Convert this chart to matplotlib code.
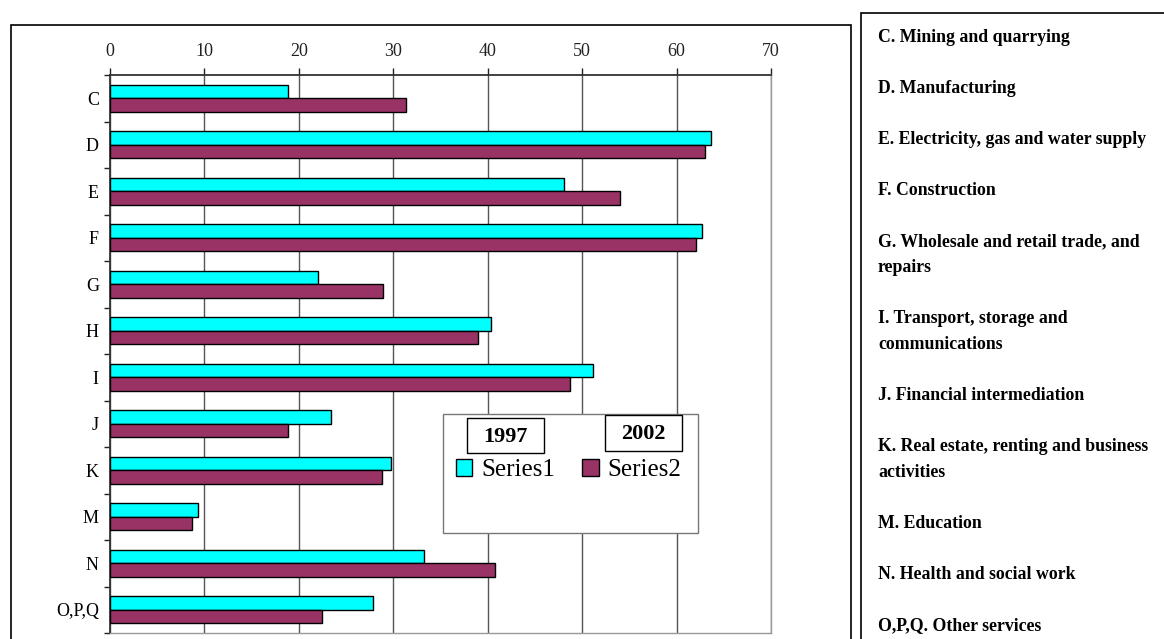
import matplotlib
matplotlib.use("Agg")
import matplotlib.pyplot as plt
from matplotlib.patches import Rectangle, Patch
import numpy as np

categories = ["C", "D", "E", "F", "G", "H", "I", "J", "K", "M", "N", "O,P,Q"]
series1_1997 = [18.9, 63.6, 48.1, 62.7, 22.0, 40.3, 51.1, 23.4, 29.8, 9.3, 33.3, 27.9]
series2_2002 = [31.3, 63.0, 54.0, 62.1, 28.9, 39.0, 48.7, 18.9, 28.8, 8.7, 40.8, 22.5]
series_names = ["Series1", "Series2"]
year_labels = ["1997", "2002"]
x_ticks = [0, 10, 20, 30, 40, 50, 60, 70]
descriptions = [
    ["C. Mining and quarrying"],
    ["D. Manufacturing"],
    ["E. Electricity, gas and water supply"],
    ["F. Construction"],
    ["G. Wholesale and retail trade, and", "repairs"],
    ["I. Transport, storage and", "communications"],
    ["J. Financial intermediation"],
    ["K. Real estate, renting and business", "activities"],
    ["M. Education"],
    ["N. Health and social work"],
    ["O,P,Q. Other services"],
]

W, H = 1164, 639
plt.rcParams["font.family"] = ["Liberation Serif", "DejaVu Serif"]
fig = plt.figure(figsize=(W / 100, H / 100), dpi=100)
fig.patch.set_facecolor("white")

def fx(px):
    return px / W

def fy(py):
    return 1 - py / H

# outer frames
fig.add_artist(Rectangle((fx(11), fy(660)), fx(851 - 11), (660 - 25) / H,
                         transform=fig.transFigure, fill=False, edgecolor="black", lw=1.2, clip_on=False))
fig.add_artist(Rectangle((fx(861), fy(660)), fx(1200 - 861), (660 - 13) / H,
                         transform=fig.transFigure, fill=False, edgecolor="black", lw=1.2, clip_on=False))

ax = fig.add_axes([fx(110), fy(633), fx(771 - 110), (633 - 75) / H])
n = len(categories)
y = np.arange(n)
bh = 0.29
ax.barh(y - bh / 2, series1_1997, height=bh, color="#00FFFF", edgecolor="black", lw=1.0, zorder=3,
        label=series_names[0])
ax.barh(y + bh / 2, series2_2002, height=bh, color="#993366", edgecolor="black", lw=1.0, zorder=3,
        label=series_names[1])

ax.set_xlim(0, 70)
ax.set_ylim(n - 0.5, -0.5)
ax.xaxis.tick_top()
ax.set_xticks(x_ticks)
ax.set_xticklabels([str(t) for t in x_ticks], fontsize=13)
ax.tick_params(axis="x", direction="out", length=5, width=1, pad=6, colors="#222222")
ax.set_yticks(y)
ax.set_yticklabels(categories, fontsize=13)
ax.set_yticks(np.arange(-0.5, n, 1.0), minor=True)
ax.tick_params(axis="y", which="major", length=0, pad=8)
ax.tick_params(axis="y", which="minor", length=4, width=1, direction="out", color="#222222")
ax.grid(axis="x", color="#555555", lw=1.0, zorder=0)
ax.set_axisbelow(True)
for s in ["left", "top"]:
    ax.spines[s].set_color("#333333")
    ax.spines[s].set_linewidth(1.3)
for s in ["right", "bottom"]:
    ax.spines[s].set_color("#999999")
    ax.spines[s].set_linewidth(1.0)

# legend box
ax.add_patch(Rectangle((fx(443), fy(533)), fx(698 - 443), (533 - 414) / H, transform=fig.transFigure,
                       facecolor="white", edgecolor="#777777", lw=1.0, zorder=4, clip_on=False))
for lbl, (x0, y0, x1, y1) in zip(year_labels, [(467, 418, 544, 453), (605, 415, 682, 451)]):
    ax.add_patch(Rectangle((fx(x0), fy(y1)), fx(x1 - x0), (y1 - y0) / H, transform=fig.transFigure,
                           facecolor="white", edgecolor="black", lw=1.0, zorder=5, clip_on=False))
    ax.text(fx((x0 + x1) / 2), fy((y0 + y1) / 2 + 1), lbl, transform=fig.transFigure, ha="center", va="center",
            fontsize=16, fontweight="bold", zorder=6)
handles = [Patch(facecolor="#00FFFF", edgecolor="black", lw=1.0),
           Patch(facecolor="#993366", edgecolor="black", lw=1.0)]
leg = ax.legend(handles, series_names, loc="upper left", bbox_to_anchor=(fx(456), fy(459)),
                bbox_transform=fig.transFigure, ncol=2, frameon=False, fontsize=18, borderpad=0,
                handlelength=0.65, handleheight=0.65, handletextpad=0.35, columnspacing=1.1,
                borderaxespad=0)
leg.set_zorder(7)

# descriptions panel
line_pitch = 25.6
yy = 37
for item in descriptions:
    for line in item:
        fig.text(fx(878), fy(yy), line, fontsize=12.8, fontweight="bold", ha="left", va="center")
        yy += line_pitch
    yy += line_pitch

fig.savefig("out.png", dpi=100)
